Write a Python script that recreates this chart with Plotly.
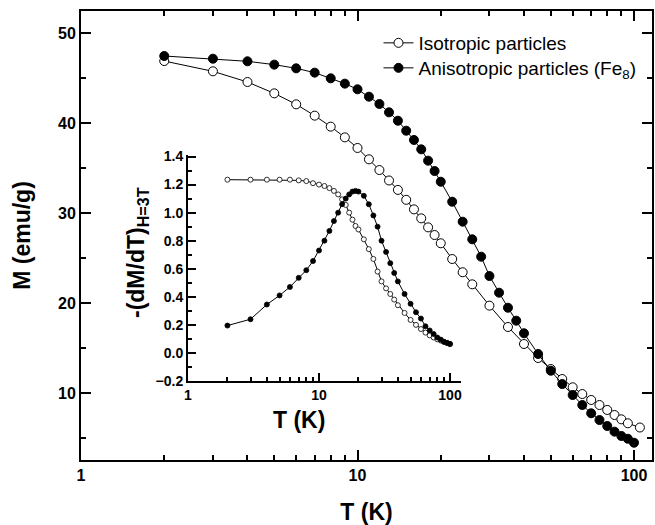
import plotly.graph_objects as go

# ---------------- data ----------------
T_aniso = [2, 3, 4, 5, 6, 7, 8, 9, 10, 11, 12, 13, 14, 15, 16, 17, 18, 19, 20,
           22, 24, 26, 28, 30, 32.5, 35, 37.5, 40, 45, 50, 55, 60, 65, 70, 75,
           80, 85, 90, 95, 100]
M_aniso = [47.48, 47.18, 46.89, 46.52, 46.11, 45.63, 45.0, 44.41, 43.78, 42.96,
           42.15, 41.22, 40.29, 39.18, 38.15, 37.11, 35.85, 34.7, 33.51,
           31.29, 29.07, 27.11, 25.18, 23.03, 21.18, 19.51, 18.07, 16.67,
           14.37, 12.51, 11.03, 9.81, 8.70, 7.78, 7.03, 6.37, 5.74, 5.26, 4.95, 4.51]

T_iso = [2, 3, 4, 5, 6, 7, 8, 9, 10, 11, 12, 13, 14, 15, 16, 17, 18, 19, 20,
         22, 24, 26, 30, 35, 40, 45, 50, 55, 60, 65, 70, 75, 80, 85, 90, 95, 105]
M_iso = [46.92, 45.78, 44.59, 43.33, 42.11, 40.85, 39.63, 38.44, 37.26, 36.0,
         34.81, 33.65, 32.6, 31.5, 30.44, 29.44, 28.44, 27.59, 26.67,
         24.92, 23.45, 22.11, 19.74, 17.37, 15.48, 13.92, 12.70, 11.59, 10.67,
         9.92, 9.26, 8.70, 8.15, 7.59, 7.11, 6.67, 6.2]

# inset: -(dM/dT) at H = 3 T
Td = [2, 3, 4, 5, 6, 7, 8, 9, 10, 11, 12, 13, 14, 15, 16, 17, 18, 19, 20,
      22, 24, 26, 28, 30, 32.5, 35, 37.5, 40, 45, 50, 55, 60, 65, 70, 75,
      80, 85, 90, 95, 100]
dM_aniso = [0.195, 0.24, 0.345, 0.41, 0.47, 0.535, 0.59, 0.655, 0.73, 0.80,
            0.87, 0.94, 1.0, 1.06, 1.10, 1.13, 1.15, 1.155, 1.15,
            1.12, 1.06, 0.98, 0.90, 0.80, 0.72, 0.64, 0.57, 0.51, 0.42, 0.35,
            0.29, 0.245, 0.19, 0.16, 0.135, 0.11, 0.095, 0.08, 0.072, 0.065]
dM_iso = [1.235, 1.235, 1.235, 1.235, 1.235, 1.23, 1.225, 1.21, 1.20, 1.19,
          1.175, 1.155, 1.13, 1.095, 1.055, 1.0, 0.95, 0.905, 0.88,
          0.81, 0.74, 0.67, 0.58, 0.51, 0.46, 0.42, 0.38, 0.34, 0.285, 0.235,
          0.2, 0.17, 0.145, 0.125, 0.11, 0.097, 0.088, 0.078, 0.07, 0.062]

xticks_main = ["1", "10", "100"]

FONT = "Liberation Sans, Arial, sans-serif"
BOLD = dict(family=FONT, size=16, color="black", weight="bold")

fig = go.Figure()

fig.add_trace(go.Scatter(
    x=T_iso, y=M_iso, mode="lines+markers", name="Isotropic particles",
    legend="legend",
    line=dict(color="black", width=1),
    marker=dict(symbol="circle", size=9, color="white",
                line=dict(color="black", width=1)),
))
fig.add_trace(go.Scatter(
    x=T_aniso, y=M_aniso, mode="lines+markers",
    name="Anisotropic particles (Fe<sub>8</sub>)", legend="legend2",
    line=dict(color="black", width=1),
    marker=dict(symbol="circle", size=9, color="black",
                line=dict(color="black", width=1)),
))
fig.add_trace(go.Scatter(
    x=Td, y=dM_iso, mode="lines+markers", showlegend=False,
    xaxis="x2", yaxis="y2",
    line=dict(color="black", width=1),
    marker=dict(symbol="circle", size=5, color="white",
                line=dict(color="black", width=0.8)),
))
fig.add_trace(go.Scatter(
    x=Td, y=dM_aniso, mode="lines+markers", showlegend=False,
    xaxis="x2", yaxis="y2",
    line=dict(color="black", width=1),
    marker=dict(symbol="circle", size=5, color="black",
                line=dict(color="black", width=0.8)),
))

LEG = dict(xanchor="left", yanchor="middle",
           font=dict(family=FONT, size=19, color="black"),
           bgcolor="rgba(0,0,0,0)", borderwidth=0, itemwidth=30)

fig.update_layout(
    width=655, height=525,
    margin=dict(l=81, r=3, t=11, b=65, autoexpand=False),
    paper_bgcolor="white", plot_bgcolor="rgba(0,0,0,0)",
    font=dict(family=FONT, color="black"),
    showlegend=True,
    legend=dict(x=0.521, y=(460 - 43) / 449, **LEG),
    legend2=dict(x=0.521, y=(460 - 68) / 449, **LEG),
    xaxis=dict(
        type="log", range=[0, 2.065], showgrid=False, zeroline=False,
        automargin=False,
        showline=True, linecolor="black", linewidth=2, mirror="ticks",
        ticks="inside", ticklen=10, tickwidth=2, tickcolor="black",
        tickvals=[1, 10, 100], ticktext=xticks_main, tickfont=BOLD,
        minor=dict(ticks="inside", ticklen=5, tickwidth=2, tickcolor="black",
                   tickvals=[2, 3, 4, 5, 6, 7, 8, 9, 20, 30, 40, 50, 60, 70, 80, 90],
                   showgrid=False),
        title=dict(text="T (K)", font=dict(family=FONT, size=23, weight="bold"),
                   standoff=21),
    ),
    yaxis=dict(
        range=[2.59, 52.48], showgrid=False, zeroline=False,
        automargin=False,
        showline=True, linecolor="black", linewidth=2, mirror="ticks",
        ticks="inside", ticklen=10, tickwidth=2, tickcolor="black",
        tick0=0, dtick=10, tickfont=BOLD,
        minor=dict(ticks="inside", ticklen=5, tickwidth=2, tickcolor="black",
                   dtick=5, tick0=0, showgrid=False),
        title=dict(text="M (emu/g)", font=dict(family=FONT, size=23, weight="bold"),
                   standoff=21),
    ),
    xaxis2=dict(
        type="log", range=[0, 2.084], domain=[0.1874, 0.6655], anchor="y2",
        showgrid=False, zeroline=False, automargin=False,
        showline=True, linecolor="black", linewidth=2,
        ticks="inside", ticklen=8, tickwidth=2, tickcolor="black",
        tickvals=[1, 10, 100], ticktext=xticks_main,
        tickfont=dict(family=FONT, size=14, weight="bold", color="black"),
        minor=dict(ticks="inside", ticklen=4, tickwidth=2, tickcolor="black",
                   tickvals=[2, 3, 4, 5, 6, 7, 8, 9, 20, 30, 40, 50, 60, 70, 80, 90],
                   showgrid=False),
    ),
    yaxis2=dict(
        range=[-0.2, 1.41], domain=[0.176, 0.679], anchor="x2",
        showgrid=False, zeroline=False, automargin=False,
        showline=True, linecolor="black", linewidth=2,
        ticks="inside", ticklen=8, tickwidth=2, tickcolor="black",
        tick0=0, dtick=0.2, tickformat=".1f",
        tickfont=dict(family=FONT, size=14, weight="bold", color="black"),
        minor=dict(ticks="inside", ticklen=4, tickwidth=2, tickcolor="black",
                   dtick=0.1, tick0=0, showgrid=False),
    ),
    annotations=[
        dict(text="T (K)", xref="paper", yref="paper",
             x=(299 - 81) / 571, y=(460 - 420) / 449, showarrow=False,
             xanchor="center", yanchor="middle",
             font=dict(family=FONT, size=23, weight="bold", color="black")),
        dict(text="-(dM/dT)<sub>H=3T</sub>", xref="paper", yref="paper",
             x=(137 - 81) / 571, y=(460 - 253) / 449, showarrow=False,
             textangle=-90, xanchor="center", yanchor="middle",
             font=dict(family=FONT, size=23, weight="bold", color="black")),
    ],
)

fig.write_html("out.html", config={"displayModeBar": False},
               post_script="document.body.style.margin='0';document.body.style.padding='0';")
